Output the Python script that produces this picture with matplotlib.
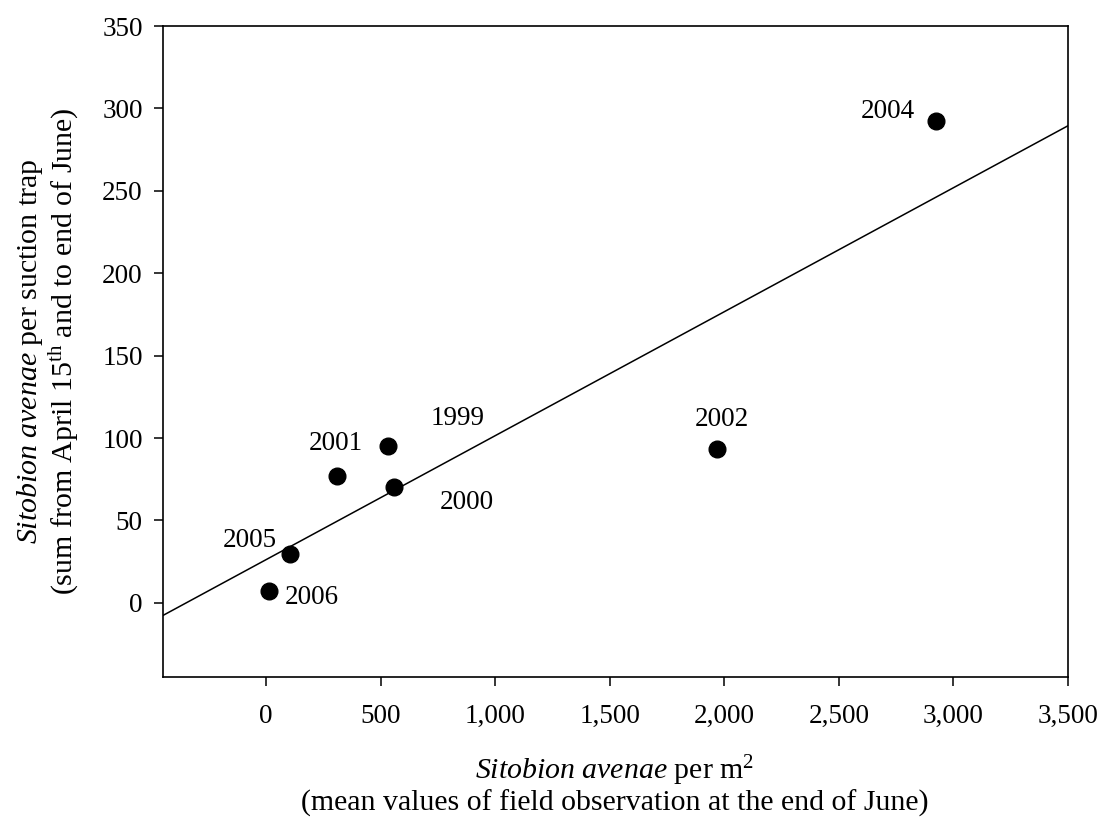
import numpy as np
import matplotlib
matplotlib.use("Agg")
import matplotlib.pyplot as plt

plt.rcParams["font.family"] = ["Liberation Serif", "DejaVu Serif"]
plt.rcParams["mathtext.fontset"] = "custom"
plt.rcParams["mathtext.rm"] = "Liberation Serif"
plt.rcParams["mathtext.it"] = "Liberation Serif:italic"

# field counts per m2 vs suction trap catches, one point per year
years = ["1999", "2000", "2001", "2002", "2004", "2005", "2006"]
field = [533, 559, 310, 1969, 2926, 105, 13]
trap = [95.4, 70.5, 77.2, 93.6, 292.2, 29.8, 7.3]

xticks = [0, 500, 1000, 1500, 2000, 2500, 3000, 3500]
yticks = [0, 50, 100, 150, 200, 250, 300, 350]

fig = plt.figure(figsize=(11.02, 8.21), dpi=100)
ax = fig.add_axes([163 / 1102, 1 - 677 / 821, (1068 - 163) / 1102, (677 - 26) / 821])

ax.set_xlim(-450, 3500)
ax.set_ylim(-45, 350)

# linear regression line across the whole x range
slope, intercept = np.polyfit(field, trap, 1)
xs = np.array(ax.get_xlim())
ax.plot(xs, slope * xs + intercept, color="black", lw=1.1, zorder=2)

ax.plot(field, trap, "o", color="black", ms=12, zorder=3)

# label offsets in pixels (dx, dy) from each point
offsets = {
    "1999": (69, 27), "2000": (73, -16), "2001": (-1, 32), "2002": (5, 29),
    "2004": (-49, 10), "2005": (-40, 13), "2006": (43, -7),
}
for yr, x, y in zip(years, field, trap):
    dx, dy = offsets[yr]
    ax.annotate(yr, (x, y), xytext=(dx * 0.72, dy * 0.72), textcoords="offset points",
                ha="center", va="center", fontsize=19.5)

ax.set_xticks(xticks)
ax.set_xticklabels([f"{v:,}" for v in xticks])
ax.set_yticks(yticks)
ax.tick_params(axis="both", direction="out", length=6.5, width=1.1, labelsize=19.5)
ax.tick_params(axis="x", pad=13)
ax.tick_params(axis="y", pad=8)
for s in ax.spines.values():
    s.set_linewidth(1.2)

fig.text(615 / 1102, 1 - 785 / 821,
         "$\\mathit{Sitobion\\ avenae}$ per m$^2$\n(mean values of field observation at the end of June)",
         ha="center", va="center", multialignment="center", fontsize=21.5, linespacing=1.1)
fig.text(48 / 1102, 1 - 351 / 821,
         "$\\mathit{Sitobion\\ avenae}$ per suction trap\n(sum from April 15$^{\\mathrm{th}}$ and to end of June)",
         ha="center", va="center", rotation=90, multialignment="center", fontsize=21.5, linespacing=1.1)

fig.savefig("out.png", dpi=100)
